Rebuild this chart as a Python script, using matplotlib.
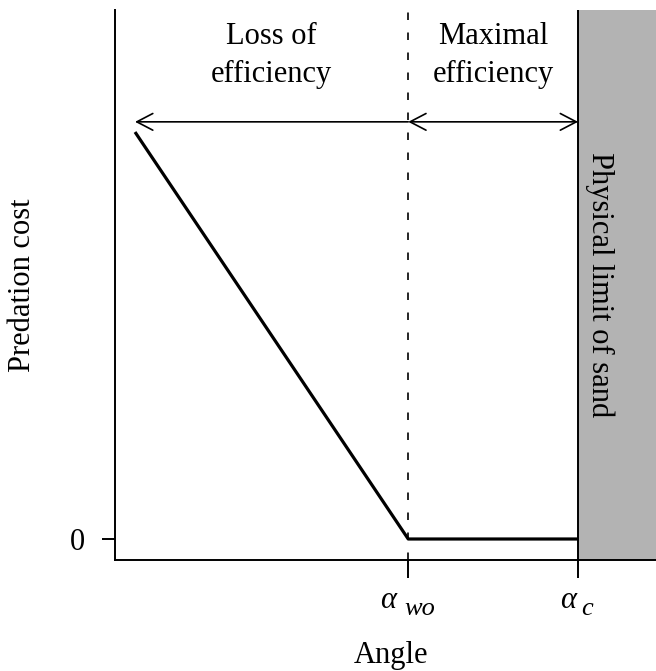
import matplotlib
matplotlib.use("Agg")
import matplotlib.pyplot as plt
from matplotlib.patches import FancyArrowPatch

plt.rcParams["font.family"] = ["Liberation Serif", "DejaVu Serif"]

# cost curve (arbitrary units): linear drop down to alpha_wo, then flat until alpha_c
angle = [0.37, 5.42, 8.56]
cost = [1.0, 0.0, 0.0]
alpha_wo = 5.42
alpha_c = 8.56
x_max = 10.0
arrow_y = 1.025

fig = plt.figure(figsize=(6.56, 6.71), dpi=100)
ax = fig.add_axes([115 / 656, 1 - 560 / 671, 1 - 115 / 656, 550 / 671])
ax.set_xlim(0, x_max)
ax.set_ylim(-0.0516, 1.2998)

# physical limit zone
ax.axvspan(alpha_c, x_max, color="#b3b3b3", lw=0, zorder=0)
ax.axvline(alpha_c, color="black", lw=1.4, zorder=2)
ax.axvline(alpha_wo, color="black", lw=1.2, dashes=(4.5, 7.5), zorder=2)

ax.plot(angle, cost, color="black", lw=2.3, solid_capstyle="butt", zorder=3)

# efficiency arrows
a1 = FancyArrowPatch((angle[0], arrow_y), (alpha_wo, arrow_y),
                     arrowstyle="<-,head_length=11.5,head_width=6",
                     mutation_scale=1, lw=1.2, color="black", shrinkA=0, shrinkB=0)
a2 = FancyArrowPatch((alpha_wo, arrow_y), (alpha_c, arrow_y),
                     arrowstyle="<->,head_length=11.5,head_width=6",
                     mutation_scale=1, lw=1.2, color="black", shrinkA=0, shrinkB=0)
ax.add_patch(a1)
ax.add_patch(a2)

ax.text((angle[0] + alpha_wo) / 2, 1.189, "Loss of\nefficiency", ha="center", va="center",
        fontsize=22, linespacing=1.4)
ax.text((alpha_wo + alpha_c) / 2, 1.189, "Maximal\nefficiency", ha="center", va="center",
        fontsize=22, linespacing=1.4)
ax.text(8.965, 0.624, "Physical limit of sand", rotation=-90, ha="center", va="center",
        fontsize=22)

# axes in the R style: left + bottom only
for s in ["top", "right"]:
    ax.spines[s].set_visible(False)
for s in ["left", "bottom"]:
    ax.spines[s].set_linewidth(1.4)

ax.set_yticks([0])
ax.set_yticklabels(["0"], fontsize=22)
ax.tick_params(axis="y", length=9.4, width=1.4, pad=12)
ax.set_xticks([alpha_wo, alpha_c])
ax.set_xticklabels(["", ""])
ax.tick_params(axis="x", length=13, width=1.4)

# tick labels alpha_wo and alpha_c
xt = ax.get_xaxis_transform()
ax.annotate("α", xy=(alpha_wo, 0), xycoords=xt, xytext=(-9, -34.5), textcoords="offset points",
            ha="right", va="baseline", fontsize=22, style="italic", annotation_clip=False)
ax.annotate("wo", xy=(alpha_wo, 0), xycoords=xt, xytext=(-2.5, -39.5), textcoords="offset points",
            ha="left", va="baseline", fontsize=19, style="italic", annotation_clip=False)
ax.annotate("α", xy=(alpha_c, 0), xycoords=xt, xytext=(-1.5, -34.5), textcoords="offset points",
            ha="right", va="baseline", fontsize=22, style="italic", annotation_clip=False)
ax.annotate("c", xy=(alpha_c, 0), xycoords=xt, xytext=(2.5, -39.5), textcoords="offset points",
            ha="left", va="baseline", fontsize=19, style="italic", annotation_clip=False)

fig.text(23 / 656, 1 - 285 / 671, "Predation cost", rotation=90, ha="center", va="center",
         fontsize=22)
fig.text(391 / 656, 1 - 655 / 671, "Angle", ha="center", va="center", fontsize=22)

fig.savefig("out.png", dpi=100)
